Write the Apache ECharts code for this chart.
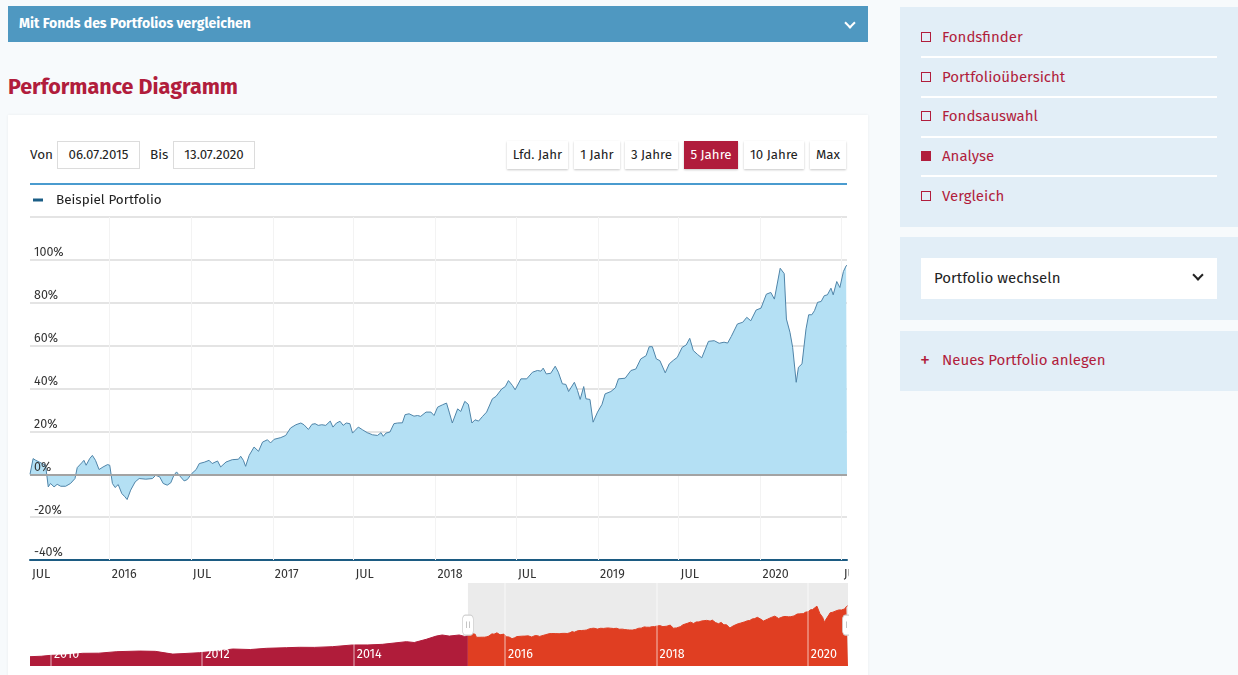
<!DOCTYPE html>
<html><head><meta charset="utf-8">
<script src="https://cdn.jsdelivr.net/npm/echarts@6/dist/echarts.min.js"></script>
<style>
*{box-sizing:border-box;margin:0;padding:0}
html,body{width:1238px;height:675px;overflow:hidden;background:#f7fafc;font-family:"Fira Sans","Noto Sans",sans-serif;color:#222}
.abs{position:absolute}
#topbar{left:8px;top:6px;width:860px;height:36px;background:#4f98c1;color:#fff;font-weight:bold;font-size:14px;line-height:35px;padding-left:11px}
.chev{position:absolute;width:8px;height:8px;border-right:2px solid #fff;border-bottom:2px solid #fff;transform:rotate(45deg)}
#title{left:8px;top:74px;font-size:21.5px;font-weight:bold;color:#b11d3c}
#card{left:8px;top:115px;width:860px;height:570px;background:#fff;box-shadow:0 0 3px rgba(0,0,0,0.06)}
.lbl{font-size:13.5px;line-height:28px;top:141px}
.inp{top:141px;height:28px;border:1px solid #dcdcdc;font-size:13.3px;line-height:26px;text-align:center;background:#fff}
.btn{top:141px;height:28px;background:#fff;box-shadow:0 1px 2px rgba(0,0,0,0.22);font-size:13.3px;line-height:28px;text-align:center;color:#222}
.btn.on{background:#b01c3c;color:#fff}
.panel{background:#e2eef7}
.item{left:942px;font-size:15px;color:#b11d3c;line-height:20px}
.sq{left:921px;width:10px;height:10px;border:1.5px solid #b11d3c}
.sep{left:921px;width:296px;height:2px;background:#fff}
#chart{left:8px;top:186px;width:841px;height:489px}
</style></head>
<body>
<div id="topbar" class="abs">Mit Fonds des Portfolios vergleichen<div class="chev" style="left:838px;top:13px"></div></div>
<div id="title" class="abs">Performance Diagramm</div>
<div id="card" class="abs"></div>
<div class="abs lbl" style="left:30px">Von</div>
<div class="abs inp" style="left:57px;width:83px">06.07.2015</div>
<div class="abs lbl" style="left:150px">Bis</div>
<div class="abs inp" style="left:173px;width:82px">13.07.2020</div>
<div class="abs btn" style="left:507px;width:61px">Lfd. Jahr</div>
<div class="abs btn" style="left:574px;width:46px">1 Jahr</div>
<div class="abs btn" style="left:625px;width:53px">3 Jahre</div>
<div class="abs btn on" style="left:684px;width:54px">5 Jahre</div>
<div class="abs btn" style="left:744px;width:60px">10 Jahre</div>
<div class="abs btn" style="left:810px;width:36px">Max</div>
<div class="abs" style="left:30px;top:183px;width:817px;height:2px;background:#4a9bcf"></div>
<div id="chart" class="abs"></div>

<div class="abs panel" style="left:900px;top:7px;width:338px;height:220px"></div>
<div class="abs sq" style="top:32px"></div><div class="abs item" style="top:27px">Fondsfinder</div>
<div class="abs sep" style="top:56px"></div>
<div class="abs sq" style="top:72px"></div><div class="abs item" style="top:67px">Portfolioübersicht</div>
<div class="abs sep" style="top:96px"></div>
<div class="abs sq" style="top:111px"></div><div class="abs item" style="top:106px">Fondsauswahl</div>
<div class="abs sep" style="top:136px"></div>
<div class="abs sq" style="top:151px;background:#b11d3c"></div><div class="abs item" style="top:146px">Analyse</div>
<div class="abs sep" style="top:175px"></div>
<div class="abs sq" style="top:191px"></div><div class="abs item" style="top:186px">Vergleich</div>

<div class="abs panel" style="left:900px;top:237px;width:338px;height:83px"></div>
<div class="abs" style="left:921px;top:258px;width:296px;height:41px;background:#fff;font-size:15px;line-height:41px;padding-left:13px;color:#222">Portfolio wechseln
  <div class="chev" style="left:273px;top:13px;border-color:#222"></div></div>

<div class="abs panel" style="left:900px;top:331px;width:338px;height:60px"></div>
<div class="abs" style="left:920px;top:349px;font-size:20px;line-height:22px;font-weight:400;color:#b11d3c">+</div>
<div class="abs item" style="top:350px">Neues Portfolio anlegen</div>

<script>
// ---- main performance series (percent) ----
const perfDates = [
'2015-07-06','2015-07-13','2015-07-19','2015-08-10','2015-08-16','2015-08-21','2015-08-29','2015-09-05','2015-09-13','2015-09-24','2015-10-05','2015-10-15','2015-10-20','2015-10-30','2015-11-04','2015-11-09','2015-11-17','2015-11-23','2015-11-30','2015-12-08','2015-12-17','2015-12-27',
'2016-01-01','2016-01-07','2016-01-13','2016-01-20','2016-01-28','2016-02-04','2016-02-09','2016-02-17','2016-02-27','2016-03-07','2016-03-22','2016-04-06','2016-04-13','2016-04-22','2016-04-30','2016-05-09','2016-05-17','2016-05-24','2016-05-30','2016-06-05','2016-06-16','2016-06-23','2016-07-03','2016-07-13','2016-07-20','2016-07-31','2016-08-11','2016-08-18','2016-08-30','2016-09-06','2016-09-18','2016-10-02','2016-10-16','2016-10-21','2016-10-27','2016-11-01','2016-11-09','2016-11-20','2016-11-30','2016-12-09','2016-12-20','2016-12-27',
'2017-01-04','2017-01-19','2017-01-30','2017-02-10','2017-02-22','2017-03-05','2017-03-12','2017-03-22','2017-03-30','2017-04-06','2017-04-13','2017-04-21','2017-04-30','2017-05-10','2017-05-16','2017-05-24','2017-06-01','2017-06-08','2017-06-15','2017-06-23','2017-06-29','2017-07-05','2017-07-12','2017-07-21','2017-08-01','2017-08-13','2017-08-24','2017-09-01','2017-09-06','2017-09-12','2017-09-21','2017-09-30','2017-10-08','2017-10-19','2017-10-25','2017-11-03','2017-11-14','2017-11-22','2017-11-29','2017-12-11','2017-12-22','2017-12-29',
'2018-01-06','2018-01-17','2018-01-26','2018-02-01','2018-02-08','2018-02-20','2018-02-27','2018-03-08','2018-03-16','2018-03-24','2018-03-31','2018-04-08','2018-04-17','2018-04-26','2018-05-09','2018-05-17','2018-05-30','2018-06-07','2018-06-14','2018-06-23','2018-06-29','2018-07-12','2018-07-25','2018-08-07','2018-08-18','2018-08-26','2018-08-31','2018-09-07','2018-09-17','2018-09-27','2018-10-04','2018-10-13','2018-10-21','2018-10-27','2018-11-09','2018-11-16','2018-11-22','2018-11-30','2018-12-05','2018-12-14','2018-12-21','2018-12-31',
'2019-01-10','2019-01-17','2019-01-30','2019-02-09','2019-02-16','2019-03-03','2019-03-16','2019-03-27','2019-04-07','2019-04-19','2019-04-26','2019-05-03','2019-05-12','2019-05-20','2019-06-01','2019-06-10','2019-06-20','2019-06-28','2019-07-09','2019-07-18','2019-07-26','2019-08-03','2019-08-13','2019-08-22','2019-09-06','2019-09-19','2019-09-30','2019-10-11','2019-10-19','2019-10-27','2019-11-10','2019-11-22','2019-12-01','2019-12-10','2019-12-22',
'2020-01-02','2020-01-14','2020-01-24','2020-02-01','2020-02-14','2020-02-23','2020-02-28','2020-03-07','2020-03-13','2020-03-21','2020-03-26','2020-04-03','2020-04-12','2020-04-18','2020-04-25','2020-05-01','2020-05-08','2020-05-16','2020-05-23','2020-05-30','2020-06-07','2020-06-12','2020-06-20','2020-06-27','2020-07-05','2020-07-11','2020-07-13'];
const perfValues = [
0,7.3,6.5,4.2,-5.9,-4.3,-5.9,-4.7,-5.6,-5.6,-4.3,-2.0,3.1,5.3,6.5,4.2,7.3,8.8,6.5,2.2,3.4,4.5,
4.2,-4.3,-6.2,-4.8,-9.0,-10.5,-11.8,-7.4,-3.6,-2.0,-2.3,-2.0,-0.5,-1.2,-4.3,-5.1,-4.0,-0.5,1.1,-0.5,-3.1,-2.5,0.3,2.2,5.0,5.6,6.5,5.0,6.2,3.4,5.7,6.8,7.0,8.4,6.5,3.7,8.8,12.7,10.7,15.0,16.1,14.6,
16.3,17.1,18.1,21.6,23.1,23.9,23.1,20.9,23.3,23.6,22.8,23.1,22.8,24.8,22.0,23.9,24.7,22.8,23.9,23.6,19.2,20.5,22.0,20.8,19.4,18.4,18.1,19.4,17.7,19.2,19.7,23.6,23.9,24.0,27.8,28.2,27.1,27.4,27.0,29.0,29.0,27.4,
31.3,32.4,33.2,29.0,23.9,30.5,29.3,34.0,32.6,23.9,25.4,24.8,27.0,29.0,35.2,36.3,39.8,40.9,43.7,41.4,39.4,44.5,44.5,47.6,48.4,48.1,49.5,46.8,47.1,50.4,47.6,42.2,41.9,38.6,42.9,39.1,34.9,40.9,35.2,34.9,24.3,29.0,
32.6,37.5,38.6,40.3,44.5,44.8,48.4,49.1,53.8,55.3,59.5,59.5,53.8,53.0,47.3,51.5,53.3,54.5,59.2,60.3,63.4,57.7,55.8,54.3,62.0,62.3,61.1,61.6,61.2,64.2,70.1,70.9,73.2,71.6,76.6,
77.5,84.0,84.8,81.7,96.1,93.6,72.4,66.2,59.2,42.9,49.9,51.5,67.8,74.4,74.4,76.3,80.2,80.6,83.3,83.7,86.8,83.7,89.9,87.1,94.6,97.2,97.5];

// ---- navigator history (index, start of window = 100) ----
const navHistDates = ['2009-09-22','2009-11-15','2010-01-01','2010-03-10','2010-06-03','2010-08-20','2010-11-15','2011-03-06','2011-05-20','2011-08-12','2011-10-10','2011-12-20','2012-03-15','2012-05-27','2012-08-20','2012-11-06','2013-02-10','2013-04-14','2013-06-25','2013-09-20','2013-12-26','2014-03-10','2014-05-19','2014-09-12','2014-10-20','2014-12-17','2015-02-03','2015-03-04','2015-04-07','2015-05-25','2015-06-20'];
const navHistValues = [30.5,32,35,36,41.6,42,47,49,48,39,41,43.6,49,55.7,54,58,60,61.3,61,63.3,68.9,69,71,79.7,77,87.5,98,101.6,98,101.6,97];
const navBase = 100;

// ---- axis ticks / labels ----
const yTicks = [-40,-20,0,20,40,60,80,100,120];
const xTickDates  = ['2016-01-01','2016-07-01','2017-01-01','2017-07-01','2018-01-01','2018-07-01','2019-01-01','2019-07-01','2020-01-01','2020-07-01'];
const xLabelDates = ['2015-07-06','2016-01-01','2016-07-01','2017-01-01','2017-07-01','2018-01-01','2018-07-01','2019-01-01','2019-07-01','2020-01-01','2020-07-01'];
const xLabelTexts = ['JUL','2016','JUL','2017','JUL','2018','JUL','2019','JUL','2020','JUL'];
const navTickDates = ['2010-01-01','2012-01-01','2014-01-01','2016-01-01','2018-01-01','2020-01-01'];
const navTickTexts = ['2010','2012','2014','2016','2018','2020'];
const seriesName = 'Beispiel Portfolio';

const FONT = '"Fira Sans","Noto Sans",sans-serif';
const ts = s => { const p = s.split('-').map(Number); return new Date(p[0], p[1]-1, p[2]).getTime(); };
const xLabelMap = {}; xLabelDates.forEach((d,i)=>{ xLabelMap[ts(d)] = xLabelTexts[i]; });
const navLabelMap = {}; navTickDates.forEach((d,i)=>{ navLabelMap[ts(d)] = navTickTexts[i]; });

const perfData = perfDates.map((d,i)=>[ts(d), perfValues[i]]);
const navHistData = navHistDates.map((d,i)=>[ts(d), navHistValues[i]]).concat([[ts(perfDates[0]), navBase]]);
const navSelData = perfDates.map((d,i)=>[ts(d), navBase + perfValues[i]]);
const tStart = ts(perfDates[0]), tEnd = ts(perfDates[perfDates.length-1]);
const yMin = yTicks[0], yMax = yTicks[yTicks.length-1];

const chart = echarts.init(document.getElementById('chart'), null, {renderer:'canvas'});
chart.setOption({
  animation:false,
  textStyle:{fontFamily:FONT},
  legend:{left:20, top:2, icon:'rect', itemWidth:10, itemHeight:3,
    data:[{name:seriesName, itemStyle:{color:'#1b5e86'}}],
    textStyle:{color:'#222', fontSize:13.5, fontFamily:FONT, padding:[0,0,0,8]}},
  grid:[
    {left:22, right:2, top:31, height:343, outerBoundsMode:'none', containLabel:false},
    {left:22, right:1, top:397, height:83, outerBoundsMode:'none', containLabel:false}
  ],
  xAxis:[
    {gridIndex:0, type:'value', min:tStart, max:tEnd, scale:true,
     axisLine:{show:true, onZero:false, lineStyle:{color:'#1c5b82', width:2}},
     axisTick:{show:true, inside:true, length:343, customValues:xTickDates.map(ts), lineStyle:{color:'#f3f3f3', width:1}},
     splitLine:{show:false},
     axisLabel:{customValues:xLabelDates.map(ts), formatter:v=>xLabelMap[v]||'', align:'left', margin:8,
       showMinLabel:true, showMaxLabel:true, hideOverlap:false,
       color:'#333', fontSize:12.5, fontFamily:FONT, padding:[0,0,0,2]}},
    {gridIndex:1, type:'value', min:ts(navHistDates[0]), max:tEnd, scale:true, z:10,
     axisLine:{show:false},
     axisTick:{show:true, inside:true, length:83, customValues:navTickDates.map(ts), lineStyle:{color:'rgba(255,255,255,0.45)', width:1.5}},
     splitLine:{show:false},
     axisLabel:{inside:true, customValues:navTickDates.map(ts), formatter:v=>navLabelMap[v]||'', align:'left', margin:5,
       color:'#fff', fontSize:12.5, fontFamily:FONT, padding:[0,0,0,3]}}
  ],
  yAxis:[
    {gridIndex:0, type:'value', min:yMin, max:yMax, interval:20,
     axisLine:{show:false}, axisTick:{show:false}, axisLabel:{show:false},
     splitLine:{show:true, lineStyle:{color:'#e4e4e4', width:2}}},
    {gridIndex:1, type:'value', min:0, max:272, show:false},
    {gridIndex:0, type:'value', min:yMin, max:yMax, interval:20, position:'left', z:10,
     axisLine:{show:false}, axisTick:{show:false}, splitLine:{show:false},
     axisLabel:{inside:true, margin:4, verticalAlign:'bottom', lineHeight:14, color:'#333', fontSize:12.5, fontFamily:FONT,
       formatter:v=> v===yMax ? '' : v+'%'}}
  ],
  series:[
    {name:seriesName, type:'line', xAxisIndex:0, yAxisIndex:0, data:perfData, symbol:'none', z:2,
     itemStyle:{color:'#1b5e86'},
     lineStyle:{color:'#4f84a8', width:1},
     areaStyle:{color:'#b4e0f4', opacity:1},
     markLine:{silent:true, symbol:'none', label:{show:false}, lineStyle:{color:'#a3a3a3', width:2, type:'solid'}, data:[{yAxis:0}]}},
    {type:'line', xAxisIndex:1, yAxisIndex:1, data:navHistData, symbol:'none', z:1,
     lineStyle:{color:'#b01c3a', width:1}, areaStyle:{color:'#b01c3a', opacity:1},
     markArea:{silent:true, itemStyle:{color:'#ebebeb'}, data:[[{xAxis:tStart},{xAxis:tEnd}]]}},
    {type:'line', xAxisIndex:1, yAxisIndex:1, data:navSelData, symbol:'none', z:2,
     lineStyle:{color:'#e03e22', width:1}, areaStyle:{color:'#e03e22', opacity:1},
     markPoint:{silent:true, symbol:'roundRect', symbolSize:[11,20],
       itemStyle:{color:'#fff', borderColor:'#cfcfcf', borderWidth:1},
       label:{show:true, formatter:'||', color:'#aaa', fontSize:8},
       data:[{coord:[tStart,134]},{coord:[tEnd,134]}]}}
  ]
});
</script>
</body></html>
